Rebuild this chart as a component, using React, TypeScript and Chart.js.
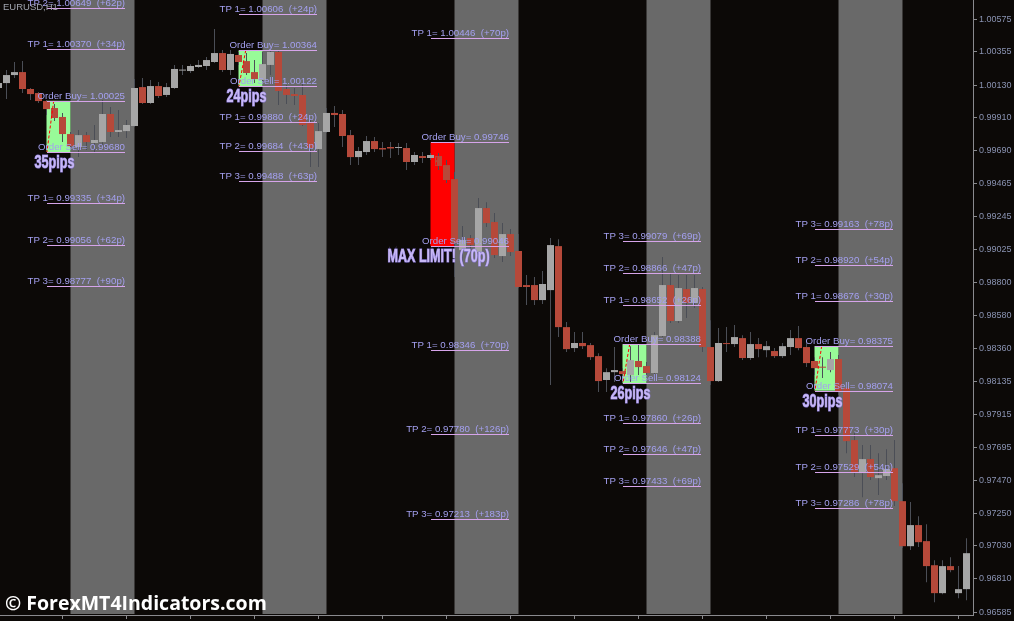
import React, { useEffect, useRef } from 'react';
import { Chart, registerables } from 'chart.js';

Chart.register(...registerables);

// ---- EURUSD H1 candles (first candle is bar index -1, partly off the left edge) ----
const opens = [
  1.00111, 1.00144, 1.00198, 1.00218, 1.00104, 1.00077, 1.00023, 0.99976, 0.99916, 0.99801,
  0.99714, 0.99794, 0.99741, 0.99747, 0.99936, 0.99815, 0.99821, 0.99855, 1.00117, 1.0001,
  1.00124, 1.00064, 1.00111, 1.00228, 1.00225, 1.00252, 1.00259, 1.00286, 1.00346, 1.00232,
  1.00333, 1.00292, 1.00218, 1.00165, 1.00266, 1.00353, 1.00104, 1.0007, 1.00064, 0.99875,
  0.997, 0.99815, 0.99943, 0.99936, 0.99794, 0.99646, 0.9968, 0.99754, 0.99707, 0.99714,
  0.99707, 0.99707, 0.99613, 0.99653, 0.9964, 0.99653, 0.99592, 0.99498, 0.9902, 0.99101,
  0.99007, 0.99303, 0.99209, 0.9898, 0.99128, 0.99014, 0.98785, 0.98785, 0.98684, 0.98751,
  0.99047, 0.98502, 0.98361, 0.98395, 0.98381, 0.98307, 0.98146, 0.98199, 0.98206, 0.98179,
  0.98274, 0.9824, 0.98193, 0.98442, 0.98785, 0.98543, 0.98758, 0.98664, 0.98758, 0.98368,
  0.98139, 0.98389, 0.98388, 0.98428, 0.98294, 0.98388, 0.98347, 0.98341, 0.98307, 0.98368,
  0.98428, 0.98368, 0.98274, 0.9823, 0.98213, 0.98287, 0.98092, 0.97742, 0.9752, 0.97614,
  0.97486, 0.975, 0.97553, 0.97331, 0.97028, 0.9717, 0.97062, 0.969, 0.96712, 0.96894,
  0.96712, 0.96739,
];
const highs = [
  1.00178, 1.00232, 1.00286, 1.00292, 1.00111, 1.00084, 1.0003, 1.00003, 0.99943, 0.99815,
  0.99828, 0.99815, 0.99862, 1.0003, 0.99983, 0.99963, 0.99895, 1.00171, 1.00178, 1.00165,
  1.00151, 1.00144, 1.00266, 1.00266, 1.0027, 1.00299, 1.00319, 1.00508, 1.00367, 1.00367,
  1.00353, 1.00346, 1.00299, 1.00353, 1.00367, 1.00367, 1.00131, 1.00111, 1.00144, 0.99895,
  0.99875, 0.99976, 0.9999, 0.99963, 0.99828, 0.99714, 0.99788, 0.99781, 0.99747, 0.99747,
  0.99741, 0.99741, 0.9968, 0.9968, 0.99673, 0.99673, 0.99626, 0.99545, 0.99182, 0.99121,
  0.9937, 0.99343, 0.9927, 0.99202, 0.99162, 0.99128, 0.98852, 0.98839, 0.98879, 0.99101,
  0.99094, 0.98536, 0.98469, 0.98469, 0.98395, 0.98327, 0.98226, 0.98368, 0.98226, 0.98374,
  0.98381, 0.98267, 0.98469, 0.98973, 0.98866, 0.98852, 0.98852, 0.98852, 0.98772, 0.98549,
  0.98496, 0.98502, 0.98516, 0.98448, 0.98469, 0.98428, 0.98408, 0.98361, 0.98395, 0.98482,
  0.98509, 0.98401, 0.983, 0.983, 0.98334, 0.98314, 0.98112, 0.97789, 0.97708, 0.97708,
  0.97654, 0.97681, 0.97742, 0.97452, 0.97325, 0.9723, 0.97176, 0.96934, 0.96934, 0.96954,
  0.96894, 0.97082,
];
const lows = [
  1.00097, 1.00037, 1.00178, 1.00077, 1.0003, 1.0001, 0.99929, 0.99889, 0.99747, 0.99707,
  0.99646, 0.99694, 0.99673, 0.99714, 0.99781, 0.99781, 0.99774, 0.99848, 1.00003, 1.00003,
  1.00043, 1.0005, 1.00105, 1.00198, 1.00212, 1.00245, 1.00232, 1.00279, 1.00218, 1.00198,
  1.00266, 1.00198, 1.00144, 1.00151, 1.00198, 0.99996, 1.00003, 0.99996, 0.99855, 0.99579,
  0.99579, 0.99808, 0.99848, 0.99714, 0.99592, 0.99592, 0.9966, 0.9968, 0.99646, 0.9964,
  0.9966, 0.99559, 0.99592, 0.99606, 0.99626, 0.99559, 0.99471, 0.98839, 0.9894, 0.9902,
  0.98987, 0.99175, 0.98967, 0.9894, 0.9898, 0.98765, 0.9865, 0.9865, 0.98657, 0.98112,
  0.98435, 0.98334, 0.98334, 0.98354, 0.9828, 0.98065, 0.98065, 0.98132, 0.98146, 0.98132,
  0.98179, 0.98172, 0.98159, 0.98435, 0.98529, 0.98529, 0.98563, 0.9863, 0.98334, 0.98112,
  0.98132, 0.98334, 0.98368, 0.9828, 0.9828, 0.983, 0.983, 0.98294, 0.98294, 0.98314,
  0.98347, 0.98233, 0.98179, 0.98159, 0.98199, 0.98045, 0.97654, 0.97493, 0.97358, 0.97473,
  0.97372, 0.97473, 0.97298, 0.97015, 0.97002, 0.97022, 0.96786, 0.96651, 0.96705, 0.96853,
  0.96678, 0.96665,
];
const closes = [
  1.00144, 1.00198, 1.00218, 1.00104, 1.0007, 1.00023, 0.99969, 0.99909, 0.99801, 0.9972,
  0.99794, 0.99747, 0.99761, 0.99936, 0.99815, 0.99828, 0.99862, 1.00111, 1.0001, 1.00124,
  1.00057, 1.00117, 1.00239, 1.00233, 1.00259, 1.00266, 1.00299, 1.00346, 1.00232, 1.0034,
  1.00286, 1.00212, 1.00171, 1.00272, 1.00353, 1.00091, 1.00064, 1.00057, 0.99862, 0.99707,
  0.99821, 0.99943, 0.99929, 0.99788, 0.99646, 0.99687, 0.99754, 0.997, 0.99697, 0.99704,
  0.99708, 0.99613, 0.9966, 0.9964, 0.9966, 0.99586, 0.99492, 0.99068, 0.99088, 0.99054,
  0.99303, 0.99202, 0.98987, 0.99128, 0.99007, 0.98772, 0.98772, 0.98684, 0.98792, 0.99054,
  0.98502, 0.98354, 0.98395, 0.98374, 0.983, 0.98139, 0.98199, 0.98213, 0.98186, 0.9828,
  0.98233, 0.98193, 0.98448, 0.98785, 0.98543, 0.98765, 0.98664, 0.98765, 0.98368, 0.98139,
  0.98395, 0.98388, 0.98435, 0.98294, 0.98388, 0.98354, 0.98374, 0.98307, 0.98374, 0.98428,
  0.98361, 0.9826, 0.98226, 0.98229, 0.98287, 0.98065, 0.97735, 0.97526, 0.97614, 0.97493,
  0.97506, 0.97547, 0.97331, 0.97028, 0.9717, 0.97055, 0.96894, 0.96712, 0.96894, 0.96867,
  0.96739, 0.96981,
];
const firstBar = -1;

// ---- sessions (gray columns), time ticks, price ticks ----
const sessionStarts = [8, 32, 56, 80, 104];
const sessionBars = 8;
const timeTicks = [7, 15, 23, 31, 39, 47, 55, 63, 71, 79, 87, 95, 103, 111, 119];
const priceTicks = [
  1.00575, 1.00355, 1.0013, 0.9991, 0.9969, 0.99465, 0.99245, 0.99025, 0.988, 0.9858,
  0.9836, 0.98135, 0.97915, 0.97695, 0.9747, 0.9725, 0.9703, 0.9681, 0.96585,
];

// ---- breakout boxes and their take-profit levels ----
const tradeBars = [5, 29, 53, 77, 101];
const orderBuy = [1.00025, 1.00364, 0.99746, 0.98388, 0.98375];
const orderSell = [0.9968, 1.00122, 0.99046, 0.98124, 0.98074];
const rangeTexts = ['35pips', '24pips', 'MAX LIMIT! (70p)', '26pips', '30pips'];
const maxLimitHit = [false, false, true, false, false];
const tpUpPrices = [[1.0037, 1.00649], [1.00606], [1.00446], [0.98652, 0.98866, 0.99079], [0.98676, 0.9892, 0.99163]];
const tpUpPips = [[34, 62], [24], [70], [26, 47, 69], [30, 54, 78]];
const tpDownPrices = [[0.99335, 0.99056, 0.98777], [0.9988, 0.99684, 0.99488], [0.98346, 0.9778, 0.97213], [0.9786, 0.97646, 0.97433], [0.97773, 0.97529, 0.97286]];
const tpDownPips = [[34, 62, 90], [24, 43, 63], [70, 126, 183], [26, 47, 69], [30, 54, 78]];

const symbolText = 'EURUSD,H1';
const watermark = '\u00A9 ForexMT4Indicators.com';

const BG = '#0c0907';
const BAND = '#696969';
const BULL = '#a6a6a6';
const BEAR = '#b6493a';
const WICK = '#4b4e56';
const AXIS = '#8a8a8e';
const AXIS_TEXT = '#8a93b2';
const LEVEL_LINE = '#d6a4ea';
const LEVEL_TEXT = '#a4a0f0';
const BIG_TEXT = '#c8b8f6';
const BOX_GREEN = '#98fb98';
const BOX_RED = '#ff0000';

const overlayPlugin = {
  id: 'mt4overlay',
  beforeDraw(chart: any) {
    const ctx = chart.ctx;
    ctx.save();
    ctx.fillStyle = BG;
    ctx.fillRect(0, 0, chart.width, chart.height);
    ctx.restore();
  },
  beforeDatasetsDraw(chart: any) {
    const { ctx, chartArea: a, scales } = chart;
    const x = scales.x;
    const y = scales.y;
    ctx.save();
    ctx.beginPath();
    ctx.rect(a.left, a.top, a.right - a.left, a.bottom - a.top - 1);
    ctx.clip();
    ctx.fillStyle = BAND;
    sessionStarts.forEach((s) => {
      const x0 = x.getPixelForValue(s);
      const x1 = x.getPixelForValue(s + sessionBars);
      ctx.fillRect(x0, a.top, x1 - x0, a.bottom - a.top);
    });
    tradeBars.forEach((k, i) => {
      const x0 = x.getPixelForValue(k);
      const x1 = x.getPixelForValue(k + 3);
      const y0 = y.getPixelForValue(orderBuy[i]);
      const y1 = y.getPixelForValue(orderSell[i]);
      ctx.fillStyle = maxLimitHit[i] ? BOX_RED : BOX_GREEN;
      ctx.fillRect(x0, y0, x1 - x0, y1 - y0);
    });
    ctx.restore();
  },
  afterDatasetsDraw(chart: any) {
    const { ctx, chartArea: a, scales } = chart;
    const x = scales.x;
    const y = scales.y;
    ctx.save();
    ctx.beginPath();
    ctx.rect(a.left, a.top, a.right - a.left, a.bottom - a.top);
    ctx.clip();

    tradeBars.forEach((k, i) => {
      // dotted order trace inside the box
      ctx.save();
      ctx.strokeStyle = '#ff0000';
      ctx.lineWidth = 1;
      ctx.setLineDash([3, 2]);
      ctx.beginPath();
      ctx.moveTo(x.getPixelForValue(k + 0.9), y.getPixelForValue(orderBuy[i]));
      ctx.lineTo(x.getPixelForValue(k + 0.05), y.getPixelForValue(orderSell[i]));
      ctx.stroke();
      ctx.restore();

      const levels: { p: number; t: string }[] = [];
      levels.push({ p: orderBuy[i], t: 'Order Buy= ' + orderBuy[i].toFixed(5) });
      levels.push({ p: orderSell[i], t: 'Order Sell= ' + orderSell[i].toFixed(5) });
      tpUpPrices[i].forEach((p, j) => levels.push({ p, t: 'TP ' + (j + 1) + '= ' + p.toFixed(5) + '  (+' + tpUpPips[i][j] + 'p)' }));
      tpDownPrices[i].forEach((p, j) => levels.push({ p, t: 'TP ' + (j + 1) + '= ' + p.toFixed(5) + '  (+' + tpDownPips[i][j] + 'p)' }));

      const xs = Math.round(x.getPixelForValue(k));
      const xe = Math.round(x.getPixelForValue(k + 9.8));
      levels.forEach((lv) => {
        const py = Math.round(y.getPixelForValue(lv.p)) + 0.5;
        ctx.strokeStyle = LEVEL_LINE;
        ctx.lineWidth = 1;
        ctx.beginPath();
        ctx.moveTo(xs, py);
        ctx.lineTo(xe, py);
        ctx.stroke();
        ctx.fillStyle = LEVEL_TEXT;
        ctx.font = '9.7px "Liberation Sans", Arial, sans-serif';
        ctx.textAlign = 'right';
        ctx.textBaseline = 'alphabetic';
        ctx.fillText(lv.t, xe, py - 2.5);
      });

      // condensed bold range text
      ctx.save();
      ctx.translate(x.getPixelForValue(k + 1), y.getPixelForValue(orderSell[i]) + 11);
      ctx.scale(0.7, 1);
      ctx.font = 'bold 18px "Liberation Sans", Arial, sans-serif';
      ctx.textAlign = 'center';
      ctx.textBaseline = 'middle';
      ctx.lineWidth = 1.2;
      ctx.strokeStyle = '#8a7ad8';
      ctx.strokeText(rangeTexts[i], 0, 0);
      ctx.fillStyle = BIG_TEXT;
      ctx.fillText(rangeTexts[i], 0, 0);
      ctx.restore();
    });

    ctx.fillStyle = '#a0a4ae';
    ctx.font = '9.5px "Liberation Sans", Arial, sans-serif';
    ctx.textAlign = 'left';
    ctx.textBaseline = 'alphabetic';
    ctx.fillText(symbolText, 3, 10);

    ctx.fillStyle = '#ffffff';
    ctx.font = 'bold 19.5px "Open Sans", "Liberation Sans", sans-serif';
    ctx.fillText(watermark, 5, 610);
    ctx.restore();
  },
};

export default function App() {
  const ref = useRef<HTMLCanvasElement | null>(null);

  useEffect(() => {
    if (!ref.current) return;
    const bars = opens.map((_, i) => firstBar + i);
    const chart = new Chart(ref.current, {
      type: 'bar',
      data: {
        datasets: [
          {
            label: 'body',
            data: bars.map((k, i) => ({ x: k, y: [opens[i], closes[i]] })) as any,
            backgroundColor: bars.map((_, i) => (closes[i] >= opens[i] ? BULL : BEAR)),
            borderWidth: 0,
            grouped: false,
            barPercentage: 0.875,
            categoryPercentage: 1,
            maxBarThickness: 7,
            minBarLength: 1,
            inflateAmount: 0,
          } as any,
          {
            label: 'wick',
            data: bars.map((k, i) => ({ x: k, y: [lows[i], highs[i]] })) as any,
            backgroundColor: WICK,
            borderWidth: 0,
            grouped: false,
            barPercentage: 0.125,
            categoryPercentage: 1,
            maxBarThickness: 1,
            inflateAmount: 0,
          } as any,
        ],
      },
      options: {
        animation: false,
        responsive: true,
        maintainAspectRatio: false,
        devicePixelRatio: 1,
        events: [],
        layout: { padding: { left: 0, right: 0, top: 0, bottom: 2 } },
        plugins: { legend: { display: false }, tooltip: { enabled: false } },
        scales: {
          x: {
            type: 'linear',
            min: -0.8125,
            max: 120.8125,
            offset: false,
            grid: { display: true, drawOnChartArea: false, drawTicks: true, tickLength: 4, color: AXIS, offset: false },
            border: { display: true, color: AXIS },
            ticks: { display: false },
            afterBuildTicks: (s: any) => {
              s.ticks = timeTicks.map((v) => ({ value: v }));
            },
            afterFit: (s: any) => {
              s.paddingLeft = 0;
              s.paddingRight = 0;
            },
          },
          y: {
            type: 'linear',
            position: 'right',
            min: 0.96565,
            max: 1.00703,
            grid: { display: true, drawOnChartArea: false, drawTicks: true, tickLength: 4, color: AXIS },
            border: { display: true, color: AXIS },
            ticks: {
              autoSkip: false,
              padding: 2,
              color: AXIS_TEXT,
              font: { family: '"Liberation Sans", Arial, sans-serif', size: 9 },
              callback: (v: any) => Number(v).toFixed(5),
            },
            afterBuildTicks: (s: any) => {
              s.ticks = priceTicks.map((v) => ({ value: v }));
            },
            afterFit: (s: any) => {
              s.width = 41;
              s.paddingTop = 0;
              s.paddingBottom = 0;
            },
          },
        },
      } as any,
      plugins: [overlayPlugin],
    });
    return () => chart.destroy();
  }, []);

  return (
    <div style={{ position: 'fixed', left: 0, top: 0, width: 1014, height: 621, background: BG }}>
      <canvas ref={ref} />
    </div>
  );
}
